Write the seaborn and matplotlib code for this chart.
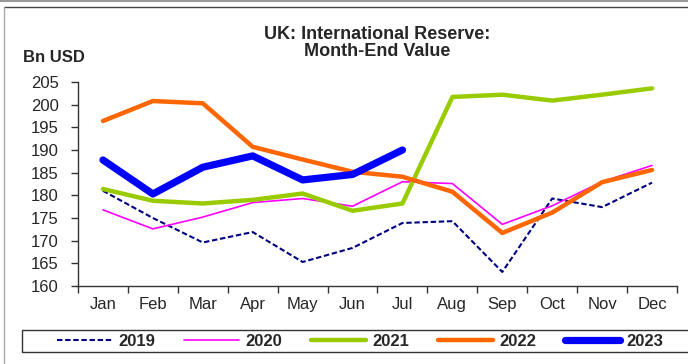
#!/usr/bin/env python3
"""UK international reserve, month-end value, 2019-2023."""

import matplotlib.pyplot as plt
import numpy as np
import pandas as pd
import seaborn as sns
from matplotlib.lines import Line2D
from matplotlib.patches import Rectangle

MONTHS = ["Jan", "Feb", "Mar", "Apr", "May", "Jun",
          "Jul", "Aug", "Sep", "Oct", "Nov", "Dec"]

Y2019 = [181.0, 175.0, 169.6, 171.9, 165.3, 168.4, 173.9, 174.3, 163.1, 179.3, 177.4, 182.8]
Y2020 = [176.8, 172.6, 175.2, 178.4, 179.3, 177.6, 183.0, 182.6, 173.6, 177.7, 183.0, 186.6]
Y2021 = [181.4, 178.8, 178.2, 179.0, 180.4, 176.6, 178.2, 201.7, 202.2, 200.9, 202.2, 203.6]
Y2022 = [196.4, 200.8, 200.3, 190.7, 187.9, 185.2, 184.1, 180.8, 171.7, 176.2, 182.9, 185.6]
Y2023 = [187.8, 180.3, 186.2, 188.7, 183.4, 184.6, 190.0]

SERIES = {"2019": Y2019, "2020": Y2020, "2021": Y2021, "2022": Y2022, "2023": Y2023}

STYLE = {
    "2019": dict(color="#000080", lw=1.5, dashes=(2.6, 1.3)),
    "2020": dict(color="#FF00FF", lw=1.2, dashes=None),
    "2021": dict(color="#99CC00", lw=3.2, dashes=None),
    "2022": dict(color="#FF6600", lw=3.2, dashes=None),
    "2023": dict(color="#0000FF", lw=5.2, dashes=None),
}


def main() -> None:
    sns.set_style("white")
    plt.rcParams["font.family"] = ["Liberation Sans", "DejaVu Sans"]

    fig = plt.figure(figsize=(6.88, 3.64), dpi=100)
    ax = fig.add_axes([78 / 688, 1 - 286 / 364, (677 - 78) / 688, (286 - 82) / 364])

    handles = []
    for year, values in SERIES.items():
        st = STYLE[year]
        df = pd.DataFrame({"month": MONTHS[:len(values)], "value": values})
        sns.lineplot(data=df, x="month", y="value", ax=ax, color=st["color"],
                     linewidth=st["lw"], sort=False)
        line = ax.lines[-1]
        line.set_solid_capstyle("round")
        if st["dashes"]:
            line.set_dashes(st["dashes"])
        h = Line2D([], [], color=st["color"], lw=st["lw"], solid_capstyle="round")
        if st["dashes"]:
            h.set_dashes(st["dashes"])
        handles.append(h)

    ax.set_xlim(-0.5, 11.5)
    ax.set_ylim(160, 205)
    ax.set_yticks(np.arange(160, 206, 5))
    ax.set_xticks(range(12))
    ax.set_xticklabels(MONTHS)
    ax.set_xticks(np.arange(-0.5, 12, 1), minor=True)
    ax.tick_params(axis="x", which="major", length=0, pad=8, labelsize=12)
    ax.tick_params(axis="x", which="minor", length=5, width=1, color="#333333",
                   direction="out", bottom=True)
    ax.tick_params(axis="y", length=5, width=1, color="#333333", direction="out",
                   left=True, pad=9, labelsize=12)
    ax.set_xlabel("")
    ax.set_ylabel("")
    for side in ("top", "right"):
        ax.spines[side].set_visible(False)
    for side in ("left", "bottom"):
        ax.spines[side].set_color("#333333")
        ax.spines[side].set_linewidth(1)

    fig.text(377 / 688, 1 - 43 / 364, "UK: International Reserve:\nMonth-End Value",
             ha="center", va="center", fontsize=13, fontweight="bold", linespacing=1.05)
    fig.text(23 / 688, 1 - 57 / 364, "Bn USD", ha="left", va="center",
             fontsize=12, fontweight="bold")

    # Outer frame lines.
    fig.add_artist(Line2D([0, 1], [1 - 1 / 364] * 2, color="#999999", lw=1.5,
                          transform=fig.transFigure))
    fig.add_artist(Line2D([4 / 688, 1], [1 - 7 / 364] * 2, color="#444444", lw=1,
                          transform=fig.transFigure))
    fig.add_artist(Line2D([4 / 688] * 2, [0, 1 - 7 / 364], color="#aaaaaa", lw=1,
                          transform=fig.transFigure))

    # Legend box.
    fig.add_artist(Rectangle((22 / 688, 1 - 352 / 364), 1.0, 22 / 364, fill=False,
                             edgecolor="#333333", lw=1, transform=fig.transFigure))
    fig.legend(handles, list(SERIES.keys()), loc="center", ncol=5,
               bbox_to_anchor=(360 / 688, 1 - 341 / 364), frameon=False,
               handlelength=3.3, handletextpad=0.36, columnspacing=1.75,
               prop={"weight": "bold", "size": 12})

    fig.savefig("out.png", dpi=100)


if __name__ == "__main__":
    main()
